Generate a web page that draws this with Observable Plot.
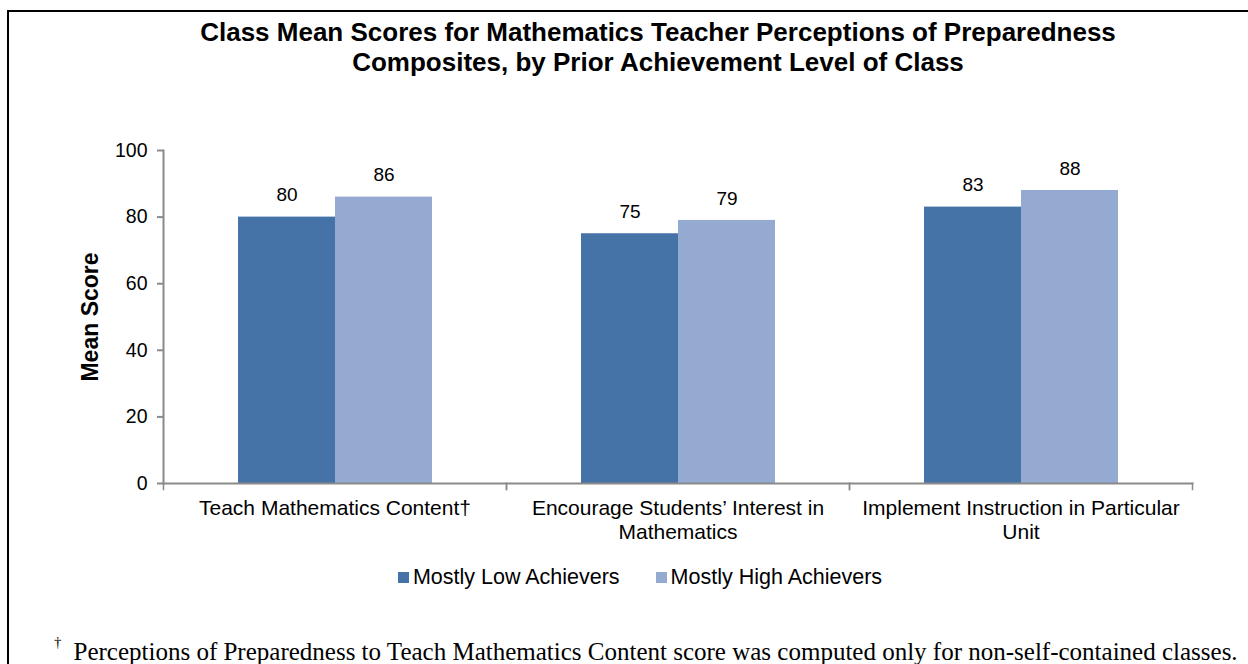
<!DOCTYPE html>
<html>
<head>
<meta charset="utf-8">
<script src="https://cdn.jsdelivr.net/npm/d3@7"></script>
<script src="https://cdn.jsdelivr.net/npm/@observablehq/plot@0.6"></script>
<style>
  html, body { margin: 0; padding: 0; background: #fff; }
  body { width: 1248px; height: 664px; position: relative; overflow: hidden; font-family: "Liberation Sans", Arial, sans-serif; }
  #box { position: absolute; left: 7px; top: 10px; width: 1400px; height: 800px; border-top: 2px solid #000; border-left: 2px solid #000; }
  #title { position: absolute; left: 0; width: 1316px; top: 17px; text-align: center; font-weight: bold; font-size: 26px; line-height: 30px; color: #000; }
  #chart { position: absolute; left: 0; top: 100px; }
  #legend { position: absolute; top: 565px; left: 0; width: 1280px; display: flex; justify-content: center; font-size: 21.5px; color: #000; }
  #legend .item { display: flex; align-items: center; margin: 0 18px; }
  #legend .sw { width: 11px; height: 11px; margin-right: 4px; }
  #foot { position: absolute; left: 54px; top: 638px; font-family: "Liberation Serif", "Times New Roman", serif; font-size: 25px; color: #000; white-space: nowrap; }
  #foot sup { font-size: 15px; position: relative; top: -4px; margin-right: 12px; }
  g[aria-label="y-axis label"] text, g[aria-label="y-axis label"] { font-weight: bold; font-size: 23px; }
</style>
</head>
<body>
<div id="box"></div>
<div id="title">Class Mean Scores for Mathematics Teacher Perceptions of Preparedness<br>Composites, by Prior Achievement Level of Class</div>
<div id="chart"></div>
<div id="legend"></div>
<div id="foot"><sup>†</sup>Perceptions of Preparedness to Teach Mathematics Content score was computed only for non-self-contained classes.</div>
<script>
const categories = ["Teach Mathematics Content†", "Encourage Students’ Interest in Mathematics", "Implement Instruction in Particular Unit"];
const categoryLabels = ["Teach Mathematics Content†", "Encourage Students’ Interest in\nMathematics", "Implement Instruction in Particular\nUnit"];
const series = ["Mostly Low Achievers", "Mostly High Achievers"];
const lowValues = [80, 75, 83];
const highValues = [86, 79, 88];
const colors = ["#4673a7", "#95aad1"];
const yTicks = [0, 20, 40, 60, 80, 100];

const data = [];
categories.forEach((c, i) => {
  data.push({category: c, series: series[0], value: lowValues[i]});
  data.push({category: c, series: series[1], value: highValues[i]});
});

const axisGray = "#8a8a8a";

const chart = Plot.plot({
  width: 1248,
  height: 460,
  marginTop: 50,
  marginBottom: 77,
  marginLeft: 163,
  marginRight: 56,
  style: {fontFamily: "'Liberation Sans', Arial, sans-serif", fontSize: "19px", color: "#000", background: "transparent"},
  fx: {domain: categories, padding: 0, axis: null, label: null},
  x: {domain: series, paddingInner: 0, paddingOuter: 0.76, axis: null},
  y: {domain: [0, 100], axis: null},
  color: {domain: series, range: colors},
  marks: [
    Plot.barY(data, {fx: "category", x: "series", y: "value", fill: "series"}),
    Plot.text(data, {fx: "category", x: "series", y: "value", text: d => String(d.value), dy: -22, fontSize: 19, fill: "#000"}),
    Plot.axisY({ticks: yTicks, tickSize: 6, tickPadding: 10, stroke: axisGray, strokeWidth: 2, fill: "#000", fontSize: 19.5,
      label: "Mean Score", labelAnchor: "center", labelArrow: "none", labelOffset: 82}),
    Plot.axisFx({anchor: "bottom", tickSize: 0, tickPadding: 14, fontSize: 21, lineHeight: 1.15, fill: "#000", label: null,
      tickFormat: d => categoryLabels[categories.indexOf(d)]}),
    Plot.frame({anchor: "left", facet: "super", stroke: axisGray, strokeWidth: 2}),
    Plot.frame({anchor: "bottom", facet: "super", stroke: axisGray, strokeWidth: 2}),
    Plot.frame({anchor: "left", insetTop: 333, insetBottom: -6, stroke: axisGray, strokeWidth: 1.5}),
    Plot.frame({anchor: "right", insetTop: 333, insetBottom: -6, stroke: axisGray, strokeWidth: 1.5})
  ]
});
document.getElementById("chart").appendChild(chart);

const legend = document.getElementById("legend");
series.forEach((s, i) => {
  const item = document.createElement("div");
  item.className = "item";
  const sw = document.createElement("div");
  sw.className = "sw";
  sw.style.background = colors[i];
  const t = document.createElement("span");
  t.textContent = s;
  item.appendChild(sw);
  item.appendChild(t);
  legend.appendChild(item);
});
</script>
</body>
</html>
